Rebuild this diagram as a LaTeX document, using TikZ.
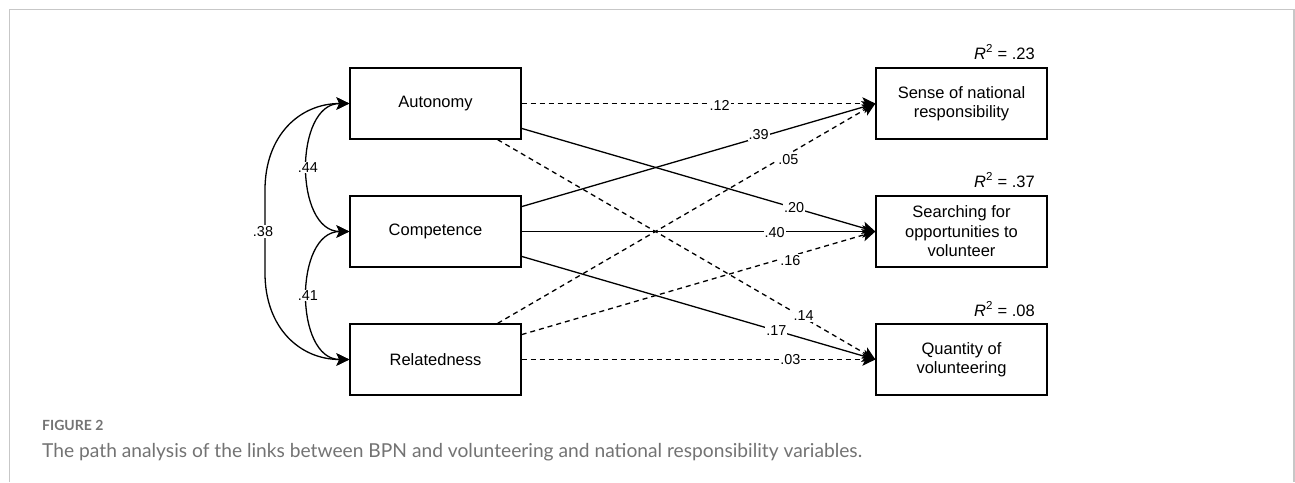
\documentclass[tikz,border=0pt]{standalone}
\usepackage{fontspec}
\setmainfont{Liberation Sans}
\newfontfamily\capfont{Lato}
\usetikzlibrary{arrows.meta}
\begin{document}
\begin{tikzpicture}[x=1pt,y=-1pt,
  box/.style={draw, line width=1.3pt, minimum width=171pt, minimum height=71pt, align=center, inner sep=0pt,
    font=\fontsize{16.5}{19.5}\selectfont},
  tip/.tip={Stealth[length=13pt,width=12.5pt,inset=3pt]},
  arr/.style={line width=1.3pt, -tip},
  cov/.style={line width=1.3pt, tip-tip},
  dsh/.style={dash pattern=on 5pt off 4pt},
  lbl/.style={fill=white, inner sep=1pt, font=\fontsize{14.4}{16}\selectfont},
  rsq/.style={anchor=base east, inner sep=0pt, font=\fontsize{16.5}{19.5}\selectfont},
  capt/.style={anchor=base west, inner sep=0pt, text=black!55},
]
\fill[white] (0,0) rectangle (1295,482);
\useasboundingbox (0,0) rectangle (1295,482);
\draw[black!22, line width=1.3pt] (9.5,482) -- (9.5,9.5) -- (1294,9.5) -- (1294,482);

\node[box] (aut) at (435.5,103.5) {Autonomy};
\node[box] (comp) at (435.5,231.5) {Competence};
\node[box] (rel) at (435.5,359.5) {Relatedness};
\node[box] (sense) at (961.5,103.5) {Sense of national\\responsibility};
\node[box] (search) at (961.5,231.5) {Searching for\\opportunities to\\volunteer};
\node[box] (qty) at (961.5,359.5) {Quantity of\\volunteering};

\node[rsq] (r1) at (1035,59) {\textit{R}\textsuperscript{2} = .23};
\node[rsq] (r2) at (1035,187) {\textit{R}\textsuperscript{2} = .37};
\node[rsq] (r3) at (1035,316) {\textit{R}\textsuperscript{2} = .08};

\draw[arr,dsh] (aut) -- node[lbl,pos=0.56,yshift=-2pt] {.12} (sense.west);
\draw[arr] (aut) -- node[lbl,pos=0.77] {.20} (search.west);
\draw[arr,dsh] (aut) -- node[lbl,pos=0.81,yshift=2pt] {.14} (qty.west);
\draw[arr] (comp) -- node[lbl,pos=0.67,yshift=3pt] {.39} (sense.west);
\draw[arr] (comp) -- node[lbl,pos=0.715,yshift=-1pt] {.40} (search.west);
\draw[arr] (comp) -- node[lbl,pos=0.72] {.17} (qty.west);
\draw[arr,dsh] (rel) -- node[lbl,pos=0.77,yshift=-5pt] {.05} (sense.west);
\draw[arr,dsh] (rel) -- node[lbl,pos=0.76,yshift=-4pt] {.16} (search.west);
\draw[arr,dsh] (rel) -- node[lbl,pos=0.76] {.03} (qty.west);

\draw[cov] (aut.west) .. controls (294,103.5) and (294,231.5) .. node[lbl,pos=0.5] {.44} (comp.west);
\draw[cov] (comp.west) .. controls (294,231.5) and (294,359.5) .. node[lbl,pos=0.5] {.41} (rel.west);
\draw[cov] (aut.west) .. controls (300,103.5) and (265,135) .. (265,190)
  -- node[lbl,xshift=-2pt] {.38} (265,273) .. controls (265,328) and (300,359.5) .. (rel.west);

\node[capt, font=\capfont\bfseries\fontsize{14}{16}\selectfont] (fig) at (42,430) {FIGURE 2};
\node[capt, font=\capfont\fontsize{19.2}{22}\selectfont] (cap) at (42,457) {The path analysis of the links between BPN and volunteering and national responsibility variables.};
\end{tikzpicture}
\end{document}
